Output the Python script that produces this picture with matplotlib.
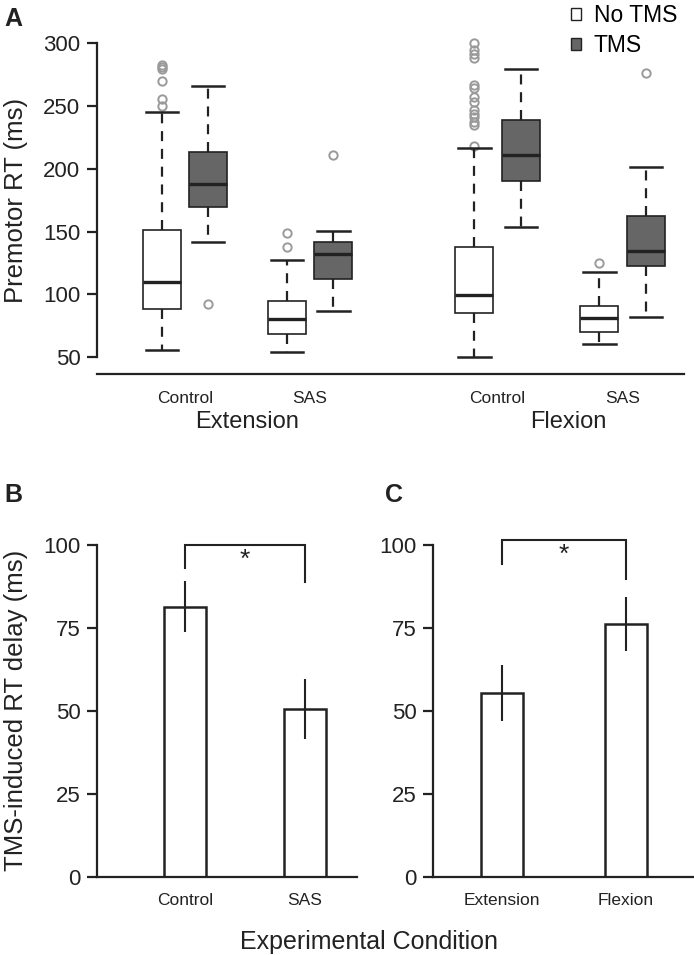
import matplotlib
matplotlib.use("Agg")
import matplotlib.pyplot as plt
from matplotlib.patches import Patch

plt.rcParams['font.family'] = ['Liberation Sans', 'DejaVu Sans']

# ---------------- Data ----------------
groups = ["Control", "SAS", "Control", "SAS"]
movements = ["Extension", "Flexion"]
series = ["No TMS", "TMS"]

notms_whislo = [55.6, 54.0, 50.2, 60.3]
notms_q1 = [87.9, 68.0, 85.0, 70.0]
notms_med = [109.4, 80.3, 99.6, 81.0]
notms_q3 = [151.6, 94.3, 138.0, 91.0]
notms_whishi = [245.6, 127.5, 216.4, 118.0]
notms_fliers = [[250, 256, 270, 279.5, 281, 283],
                [137.8, 148.7],
                [218.5, 235, 237.6, 241, 244, 247, 253.5, 257, 264, 266.8,
                 288, 291.5, 295, 300],
                [124.8]]

tms_whislo = [142.0, 86.6, 153.7, 81.8]
tms_q1 = [169.7, 112.3, 190.6, 122.7]
tms_med = [188.0, 132.2, 211.0, 134.6]
tms_q3 = [213.2, 141.6, 239.0, 162.7]
tms_whishi = [266.3, 150.6, 279.5, 201.8]
tms_fliers = [[91.9], [210.8], [], [276.6]]

b_labels = ["Control", "SAS"]
b_means = [81.4, 50.6]
b_err = [7.7, 9.1]

c_labels = ["Extension", "Flexion"]
c_means = [55.3, 76.2]
c_err = [8.4, 8.2]

# ---------------- Figure ----------------
W, H = 694, 955
fig = plt.figure(figsize=(W / 100, H / 100), dpi=100)

def fx(px):
    return px / W

def fy(py):
    return 1 - py / H

dark = "#222222"
tms_color = "#666666"
flier_color = "#9a9a9a"

# ---------------- Panel A ----------------
axA = fig.add_axes([fx(97), fy(374), fx(684) - fx(97), fy(30) - fy(374)])
centers = [1.0, 2.0, 3.5, 4.5]
off = 0.186
bw = 0.304

def stats(lo, q1, med, q3, hi, fl):
    return [dict(whislo=lo[i], q1=q1[i], med=med[i], q3=q3[i], whishi=hi[i],
                 fliers=fl[i]) for i in range(len(lo))]

common = dict(widths=bw, capwidths=0.26, patch_artist=True, manage_ticks=False,
              whiskerprops=dict(color=dark, lw=1.6, linestyle=(0, (4.5, 3.5))),
              capprops=dict(color=dark, lw=1.8),
              medianprops=dict(color=dark, lw=2.4),
              flierprops=dict(marker='o', markersize=6, markerfacecolor='none',
                              markeredgecolor=flier_color, markeredgewidth=1.4))

bp1 = axA.bxp(stats(notms_whislo, notms_q1, notms_med, notms_q3, notms_whishi, notms_fliers),
              positions=[c - off for c in centers],
              boxprops=dict(facecolor='white', edgecolor=dark, lw=1.2), **common)
bp2 = axA.bxp(stats(tms_whislo, tms_q1, tms_med, tms_q3, tms_whishi, tms_fliers),
              positions=[c + off for c in centers],
              boxprops=dict(facecolor=tms_color, edgecolor=dark, lw=1.2), **common)
for bp in (bp1, bp2):
    for f in bp['fliers']:
        f.set_clip_on(False)
        f.set_zorder(1)

axA.set_xlim(1 - 88 / 125, 1 + 587 / 125 - 88 / 125)
axA.set_ylim(50 - 17 / 1.256, 300 + 13.3 / 1.256)
axA.spines['left'].set_bounds(50, 300)
for s in ('top', 'right'):
    axA.spines[s].set_visible(False)
axA.spines['left'].set_linewidth(1.6)
axA.spines['bottom'].set_linewidth(1.6)
axA.spines['left'].set_color(dark)
axA.spines['bottom'].set_color(dark)
axA.set_yticks([50, 100, 150, 200, 250, 300])
axA.tick_params(axis='y', labelsize=16, length=7, width=1.6, pad=5, colors=dark)
axA.set_xticks(centers)
axA.set_xticklabels(groups)
axA.tick_params(axis='x', length=0, labelsize=12.5, pad=12, colors=dark)
axA.set_ylabel("Premotor RT (ms)", fontsize=18.5, color=dark)
axA.yaxis.set_label_coords((28 - 97) / 587, (374 - 200) / 344)
for m, cx in zip(movements, [247, 568]):
    fig.text(fx(cx), fy(422), m, ha='center', va='center', fontsize=17, color=dark)

handles = [Patch(facecolor='white', edgecolor=dark, lw=1.0),
           Patch(facecolor=tms_color, edgecolor=dark, lw=1.0)]
fig.legend(handles, series, loc='upper left', bbox_to_anchor=(fx(555), fy(-12)),
           frameon=False, fontsize=16.5, handlelength=0.45, handleheight=0.45,
           handletextpad=0.55, labelspacing=0.3, borderpad=0.2)

fig.text(fx(4), fy(19), "A", fontsize=18, fontweight='bold', va='center', ha='left', color=dark)

# ---------------- Panels B and C ----------------
def bar_panel(left_px, right_px, center0, step, labels, means, errs, bracket):
    ax = fig.add_axes([fx(left_px), fy(876.7), fx(right_px) - fx(left_px), fy(545) - fy(876.7)])
    xs = list(range(len(labels)))
    ax.bar(xs, means, width=42 / step, color='white', edgecolor=dark, linewidth=1.8, zorder=2)
    ax.errorbar(xs, means, yerr=errs, fmt='none', ecolor=dark, elinewidth=1.5,
                capsize=0, zorder=3)
    ax.set_xlim((left_px - center0) / step, (right_px - center0) / step)
    ax.set_ylim(0, 100)
    for s in ('top', 'right'):
        ax.spines[s].set_visible(False)
    for s in ('left', 'bottom'):
        ax.spines[s].set_linewidth(1.6)
        ax.spines[s].set_color(dark)
    ax.set_yticks([0, 25, 50, 75, 100])
    ax.tick_params(axis='y', labelsize=16, length=7, width=1.6, pad=5, colors=dark)
    ax.set_xticks(xs)
    ax.set_xticklabels(labels)
    ax.tick_params(axis='x', length=0, labelsize=12.5, pad=12, colors=dark)
    top, l_end, r_end = bracket
    ax.plot([xs[0], xs[0], xs[1], xs[1]], [l_end, top, top, r_end], color=dark,
            lw=1.5, clip_on=False, solid_joinstyle='miter')
    ax.text((xs[0] + xs[1]) / 2, top - 0.8, "*", ha='center', va='top',
            fontsize=19, color=dark)
    return ax

axB = bar_panel(97, 357, 185, 120, b_labels, b_means, b_err, (100, 93, 88.8))
axB.set_ylabel("TMS-induced RT delay (ms)", fontsize=18.5, color=dark)
axB.yaxis.set_label_coords((28 - 97) / 260, 0.5)
axC = bar_panel(433.3, 694, 502, 124, c_labels, c_means, c_err, (101.5, 94.2, 89.7))

fig.text(fx(4), fy(495), "B", fontsize=18, fontweight='bold', va='center', ha='left', color=dark)
fig.text(fx(385), fy(495), "C", fontsize=18, fontweight='bold', va='center', ha='left', color=dark)
fig.text(fx(369), fy(942), "Experimental Condition", ha='center', va='center',
         fontsize=18, color=dark)

fig.savefig("out.png", dpi=100)
